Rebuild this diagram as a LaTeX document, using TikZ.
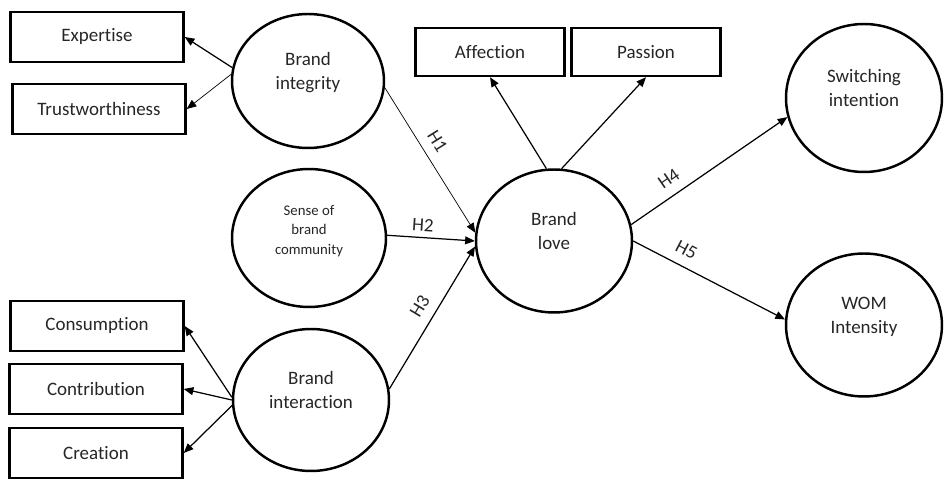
\documentclass[tikz,border=0pt]{standalone}
\usepackage{fontspec}
\setmainfont{Carlito}[Ligatures=NoCommon]
\usepackage{tikz}
\usetikzlibrary{shapes.geometric,arrows.meta}

% text of a construct, lifted a little above the centre
\newcommand{\cname}[1]{\raisebox{2pt}[0pt][0pt]{\begin{tabular}{@{}c@{}}#1\end{tabular}}}

\begin{document}
\begin{tikzpicture}[->,>={Triangle[length=5.5pt,width=4.5pt]},line width=0.7pt,x=0.02cm,y=0.02cm,
    font=\fontsize{10.8}{14}\selectfont,text=black!85]
    \tikzstyle{indicator}=[rectangle,draw,line width=1.4pt,minimum width=3.46cm,minimum height=1.0cm]
    \tikzstyle{latent}=[ellipse,draw,line width=1.4pt,minimum width=3.12cm,minimum height=2.86cm]
    \tikzstyle{faint}=[line width=0.4pt]
    \tikzstyle{hyp}=[sloped,above,inner sep=5.5pt]

    \useasboundingbox (0,0) rectangle (944,480);

    \node[indicator] (exp)   at (97,443)  {Expertise};
    \node[indicator] (trust) at (99,371)  {Trustworthiness};
    \node[indicator] (cons)  at (97,154)  {Consumption};
    \node[indicator] (contr) at (96,91)   {Contribution};
    \node[indicator] (creat) at (96,27)   {Creation};
    \node[indicator,minimum width=2.98cm,minimum height=0.96cm] (aff) at (490,428) {Affection};
    \node[indicator,minimum width=2.98cm,minimum height=0.96cm] (pas) at (646,428) {Passion};

    \node[latent,minimum width=3.04cm,minimum height=2.68cm] (integ) at (308,399) {\cname{Brand\\integrity}};
    \node[latent,minimum width=3.08cm,minimum height=2.76cm,font=\fontsize{8.4}{11.3}\selectfont] (comm) at (309,242) {\cname{Sense of\\brand\\community}};
    \node[latent,minimum height=2.84cm] (inter)  at (311,80)  {\cname{Brand\\interaction}};
    \node[latent] (love)   at (554,239) {\cname{Brand\\love}};
    \node[latent,minimum height=2.96cm] (switch) at (864,382) {\cname{Switching\\intention}};
    \node[latent] (wom)    at (864,155) {\cname{WOM\\Intensity}};

    \draw (integ.170) -- (exp.east);
    \draw[faint] (integ.175) -- (trust.east);
    \foreach \b/\a in {cons/178,contr/180,creat/184}
        \draw (inter.\a) -- (\b.east);
    \draw (love.96) -- (aff.south);
    \draw (love.84) -- (pas.south);

    \draw[faint] (integ.-5) -- node[hyp,pos=0.43] {H1} (love.174);
    \draw (comm.2) -- node[hyp,pos=0.4,inner sep=3pt] {H2} (love.west);
    \draw (inter.8) -- node[hyp,pos=0.52] {H3} (love.184);
    \draw (love.12) -- node[hyp,pos=0.3] {H4} (switch.194);
    \draw (love.east) -- node[hyp,pos=0.3] {H5} (wom.176);
\end{tikzpicture}
\end{document}
